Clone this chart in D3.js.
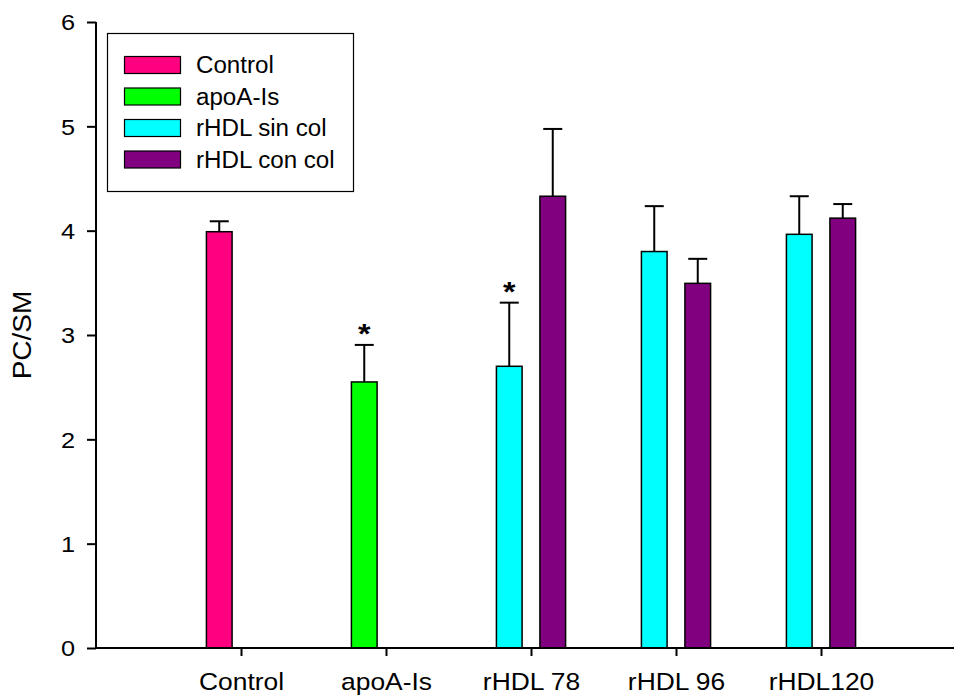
<!DOCTYPE html>
<html>
<head>
<meta charset="utf-8">
<script src="https://cdn.jsdelivr.net/npm/d3@7"></script>
<style>
  html, body { margin: 0; padding: 0; background: #fff; }
  svg { display: block; font-family: "Liberation Sans", Arial, sans-serif; }
</style>
</head>
<body>
<svg id="chart" width="954" height="695"></svg>
<script>
// ---- data ----
const categories = ["Control", "apoA-Is", "rHDL 78", "rHDL 96", "rHDL120"];
const seriesNames = ["Control", "apoA-Is", "rHDL sin col", "rHDL con col"];
const seriesColors = ["#FF0080", "#00FF00", "#00FFFF", "#800080"];
const controlValues = [3.99, null, null, null, null];
const controlErrors = [0.10, null, null, null, null];
const apoAValues = [null, 2.55, null, null, null];
const apoAErrors = [null, 0.355, null, null, null];
const sinColValues = [null, null, 2.70, 3.80, 3.965];
const sinColErrors = [null, null, 0.61, 0.435, 0.365];
const conColValues = [null, null, 4.33, 3.495, 4.12];
const conColErrors = [null, null, 0.645, 0.235, 0.135];
const significant = [null, "*", "*", null, null]; // marks on first-slot bar
const yTicks = [0, 1, 2, 3, 4, 5, 6];
const yLabel = "PC/SM";

const seriesValues = [controlValues, apoAValues, sinColValues, conColValues];
const seriesErrors = [controlErrors, apoAErrors, sinColErrors, conColErrors];
const seriesSlot = [0, 0, 0, 1];

// ---- layout ----
const svg = d3.select("#chart");
const x = d3.scaleLinear().domain([0, 6]).range([96, 966]);
const y = d3.scaleLinear().domain([0, 6]).range([648, 22]);
const slotOffset = [-0.15, 0.15];
const barW = 0.177;

const bars = [];
seriesValues.forEach((vals, s) => {
  vals.forEach((v, i) => {
    if (v != null) bars.push({ s, i, v, e: seriesErrors[s][i], slot: seriesSlot[s] });
  });
});

const g = svg.append("g");

bars.forEach(b => {
  const cx = x(b.i + 1 + slotOffset[b.slot]);
  const w = x(barW) - x(0);
  g.append("line")
    .attr("x1", cx).attr("x2", cx)
    .attr("y1", y(b.v)).attr("y2", y(b.v + b.e))
    .attr("stroke", "#000").attr("stroke-width", 2);
  g.append("line")
    .attr("x1", cx - 9.5).attr("x2", cx + 9.5)
    .attr("y1", y(b.v + b.e)).attr("y2", y(b.v + b.e))
    .attr("stroke", "#000").attr("stroke-width", 2);
  g.append("rect")
    .attr("x", cx - w / 2).attr("width", w)
    .attr("y", y(b.v)).attr("height", y(0) - y(b.v))
    .attr("fill", seriesColors[b.s])
    .attr("stroke", "#000").attr("stroke-width", 1.5);
  if (b.slot === 0 && significant[b.i]) {
    g.append("text")
      .attr("transform", `translate(${cx},${y(b.v + b.e) - 2}) scale(1.15,1)`)
      .attr("text-anchor", "middle")
      .attr("font-size", 28)
      .attr("font-weight", "bold")
      .text(significant[b.i]);
  }
});

// y axis
const yAxis = d3.axisLeft(y).tickValues(yTicks).tickFormat(d3.format("d"))
  .tickSize(9).tickPadding(12);
const gy = svg.append("g").attr("transform", "translate(96,0)").call(yAxis);
gy.attr("font-family", null);
gy.select(".domain").attr("stroke-width", 2).attr("d", `M0,${y(6)}V${y(0)}`);
gy.selectAll(".tick line").attr("stroke-width", 2);
gy.selectAll(".tick text")
  .attr("font-size", 22)
  .attr("x", null).attr("dy", "0.36em")
  .attr("transform", "translate(-21,0) scale(1.15,1)");

// x axis
const xAxis = d3.axisBottom(x).tickValues(categories.map((c, i) => i + 1))
  .tickFormat((d) => categories[d - 1]).tickSize(8).tickPadding(16);
const gx = svg.append("g").attr("transform", `translate(0,${y(0)})`).call(xAxis);
gx.attr("font-family", null);
gx.select(".domain").attr("stroke-width", 2).attr("d", `M${x(0)},0H${x(6)}`);
gx.selectAll(".tick line").attr("stroke-width", 2).attr("y1", 1);
gx.selectAll(".tick text")
  .attr("font-size", 24)
  .attr("y", null).attr("dy", null)
  .attr("transform", "translate(0,42) scale(1.1,1)");

// y label
svg.append("text")
  .attr("transform", `translate(31,${(y(0) + y(6)) / 2}) rotate(-90) scale(1.12,1)`)
  .attr("text-anchor", "middle")
  .attr("font-size", 25)
  .text(yLabel);

// legend
const lg = svg.append("g");
lg.append("rect").attr("x", 107.5).attr("y", 33.5).attr("width", 246).attr("height", 158)
  .attr("fill", "#fff").attr("stroke", "#000").attr("stroke-width", 1.2);
seriesNames.forEach((name, k) => {
  const cy = 65 + k * 31.5;
  lg.append("rect").attr("x", 124.5).attr("y", cy - 8.5).attr("width", 56).attr("height", 17)
    .attr("fill", seriesColors[k]).attr("stroke", "#000").attr("stroke-width", 1.2);
  lg.append("text")
    .attr("transform", `translate(196,${cy + 8}) scale(1.05,1)`)
    .attr("font-size", 23).text(name);
});
</script>
</body>
</html>
